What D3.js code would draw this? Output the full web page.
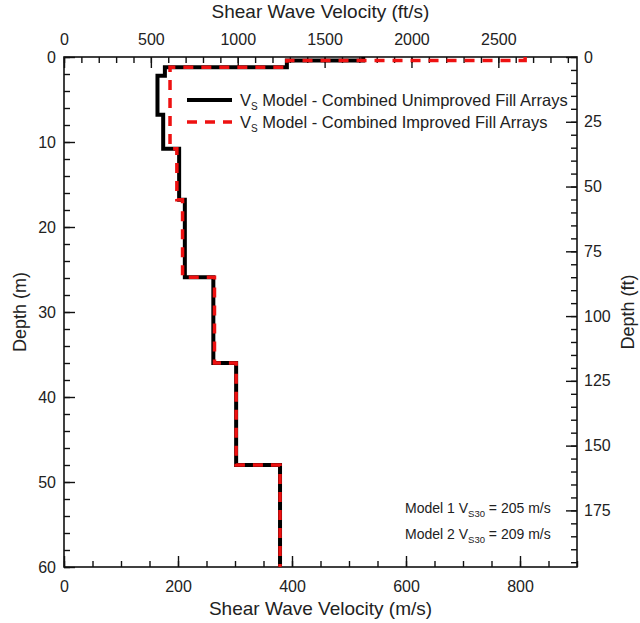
<!DOCTYPE html>
<html>
<head>
<meta charset="utf-8">
<script src="https://cdn.jsdelivr.net/npm/d3@7"></script>
<style>
  html, body { margin: 0; padding: 0; background: #fff; }
  svg { display: block; }
  svg text { font-family: "Liberation Sans", Arial, Helvetica, sans-serif; fill: #222; }
</style>
</head>
<body>
<svg id="chart" width="640" height="623"></svg>
<script>
// Layered shear-wave velocity profiles (depth of each layer top, m)
const layerTops = [0, 0.4, 1.2, 2.2, 6.8, 10.8, 16.8, 25.9, 36.0, 48.0];
const maxDepth = 60;
// Vs of each layer (m/s)
const vsUnimproved = [525, 391, 177, 164, 174, 202, 212, 262, 302, 379];
const vsImproved   = [809, 391, 186, 186, 186, 198, 208, 264, 302, 379];

const seriesNames = [
  " Model - Combined Unimproved Fill Arrays",
  " Model - Combined Improved Fill Arrays"
];
const vs30Labels = ["Model 1", "Model 2"];
const vs30Values = [205, 209];

const xMajorTicks = [0, 200, 400, 600, 800];
const ftsMajorTicks = [0, 500, 1000, 1500, 2000, 2500];
const depthMajorTicks = [0, 10, 20, 30, 40, 50, 60];
const ftMajorTicks = [0, 25, 50, 75, 100, 125, 150, 175];

const FT = 0.3048;
const FONT = '"Liberation Sans", Arial, Helvetica, sans-serif';
const svg = d3.select("#chart");
const L = 64, R = 577, T = 57, B = 567;
const vMax = 900;

const x = d3.scaleLinear().domain([0, vMax]).range([L, R]);
const xFt = d3.scaleLinear().domain([0, vMax / FT]).range([L, R]);
const y = d3.scaleLinear().domain([0, maxDepth]).range([T, B]);
const yFt = d3.scaleLinear().domain([0, maxDepth / FT]).range([T, B]);
const fmt = d3.format("d");

function styleAxis(g) {
  g.attr("font-family", FONT).attr("font-size", 16);
  g.select(".domain").remove();
  g.selectAll(".tick line").attr("stroke", "#111").attr("stroke-width", 1.4);
  g.selectAll(".tick text").attr("fill", "#222");
}

// bottom axis (m/s)
svg.append("g").attr("transform", `translate(0,${B})`)
  .call(d3.axisBottom(x).tickValues(d3.range(0, vMax + 1, 50)).tickSize(-6).tickFormat(""))
  .call(styleAxis);
svg.append("g").attr("transform", `translate(0,${B})`)
  .call(d3.axisBottom(x).tickValues(xMajorTicks).tickSize(-11).tickPadding(14).tickFormat(fmt))
  .call(styleAxis);

// top axis (ft/s)
svg.append("g").attr("transform", `translate(0,${T})`)
  .call(d3.axisTop(xFt).tickValues(d3.range(0, vMax / FT, 100)).tickSize(-6).tickFormat(""))
  .call(styleAxis);
svg.append("g").attr("transform", `translate(0,${T})`)
  .call(d3.axisTop(xFt).tickValues(ftsMajorTicks).tickSize(-11).tickPadding(12).tickFormat(fmt))
  .call(styleAxis);

// left axis (m)
svg.append("g").attr("transform", `translate(${L},0)`)
  .call(d3.axisLeft(y).tickValues(d3.range(0, maxDepth + 1, 2)).tickSize(-6).tickFormat(""))
  .call(styleAxis);
svg.append("g").attr("transform", `translate(${L},0)`)
  .call(d3.axisLeft(y).tickValues(depthMajorTicks).tickSize(-11).tickPadding(8).tickFormat(fmt))
  .call(styleAxis);

// right axis (ft)
svg.append("g").attr("transform", `translate(${R},0)`)
  .call(d3.axisRight(yFt).tickValues(d3.range(0, maxDepth / FT, 5)).tickSize(-6).tickFormat(""))
  .call(styleAxis);
svg.append("g").attr("transform", `translate(${R},0)`)
  .call(d3.axisRight(yFt).tickValues(ftMajorTicks).tickSize(-11).tickPadding(7).tickFormat(fmt))
  .call(styleAxis);

// frame
svg.append("rect").attr("x", L).attr("y", T).attr("width", R - L).attr("height", B - T)
  .attr("fill", "none").attr("stroke", "#111").attr("stroke-width", 1.6);

// step profile built from layer tops and velocities
function stepPoints(vs) {
  const pts = [];
  vs.forEach((v, i) => {
    const top = layerTops[i];
    const bot = i + 1 < layerTops.length ? layerTops[i + 1] : maxDepth;
    pts.push([v, top], [v, bot]);
  });
  return pts;
}
const line = d3.line().x(d => x(d[0])).y(d => y(d[1]));

svg.append("path").attr("d", line(stepPoints(vsUnimproved)))
  .attr("fill", "none").attr("stroke", "#000").attr("stroke-width", 4)
  .attr("stroke-linejoin", "miter");
svg.append("path").attr("d", line(stepPoints(vsImproved)))
  .attr("fill", "none").attr("stroke", "#ee1111").attr("stroke-width", 3.5)
  .attr("stroke-dasharray", "10,8");

// legend
const legend = [
  { name: seriesNames[0], stroke: "#000", width: 4, dash: null, yy: 100 },
  { name: seriesNames[1], stroke: "#ee1111", width: 3.5, dash: "10,8", yy: 122 }
];
legend.forEach(d => {
  svg.append("line").attr("x1", 187).attr("x2", 232).attr("y1", d.yy).attr("y2", d.yy)
    .attr("stroke", d.stroke).attr("stroke-width", d.width)
    .attr("stroke-dasharray", d.dash);
  const t = svg.append("text").attr("x", 240).attr("y", d.yy + 6)
    .attr("font-size", 16.5);
  t.append("tspan").text("V");
  t.append("tspan").attr("font-size", 10).attr("dy", 4).text("S");
  t.append("tspan").attr("dy", -4).text(d.name);
});

// Vs30 annotations
vs30Labels.forEach((lab, i) => {
  const t = svg.append("text").attr("x", 405).attr("y", 513 + i * 26)
    .attr("font-size", 14);
  t.append("tspan").text(lab + " V");
  t.append("tspan").attr("font-size", 9.5).attr("dy", 4).text("S30");
  t.append("tspan").attr("dy", -4).text(" = " + vs30Values[i] + " m/s");
});

// axis titles
svg.append("text").attr("x", (L + R) / 2).attr("y", 18).attr("text-anchor", "middle")
  .attr("font-size", 19).text("Shear Wave Velocity (ft/s)");
svg.append("text").attr("x", (L + R) / 2).attr("y", 615).attr("text-anchor", "middle")
  .attr("font-size", 19).text("Shear Wave Velocity (m/s)");
svg.append("text").attr("transform", `translate(26,${(T + B) / 2}) rotate(-90)`)
  .attr("text-anchor", "middle").attr("font-size", 18).text("Depth (m)");
svg.append("text").attr("transform", `translate(634,${(T + B) / 2}) rotate(-90)`)
  .attr("text-anchor", "middle").attr("font-size", 18).text("Depth (ft)");
</script>
</body>
</html>
